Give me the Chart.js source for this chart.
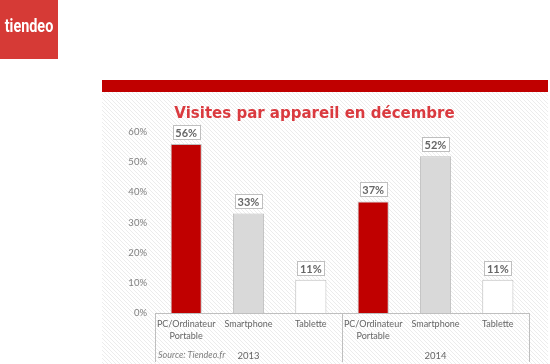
<!DOCTYPE html>
<html>
<head>
<meta charset="utf-8">
<script src="https://cdn.jsdelivr.net/npm/chart.js"></script>
<style>
  body { margin: 0; background: #fff; }
  .chart-container { position: relative; width: 550px; height: 364px; }
</style>
</head>
<body>
<div class="chart-container"><canvas id="chart"></canvas></div>
<script>
// chart data
const categories = [
  ['PC/Ordinateur', 'Portable'], 'Smartphone', 'Tablette',
  ['PC/Ordinateur', 'Portable'], 'Smartphone', 'Tablette',
];
const years = ['2013', '2014'];
const visits = [56, 33, 11, 37, 52, 11];
const titleText = 'Visites par appareil en décembre';
const sourceText = 'Source: Tiendeo.fr';

const barColors = ['#C00000', '#D9D9D9', '#FFFFFF', '#C00000', '#D9D9D9', '#FFFFFF'];
const labelFont = '"Lato", "Liberation Sans", sans-serif';

// light diagonal hatching like the slide background
function makeHatch(ctx) {
  const p = document.createElement('canvas');
  p.width = 4;
  p.height = 4;
  const pc = p.getContext('2d');
  pc.fillStyle = '#ffffff';
  pc.fillRect(0, 0, 4, 4);
  pc.strokeStyle = '#ececec';
  pc.lineWidth = 1;
  pc.beginPath();
  pc.moveTo(0, 0);
  pc.lineTo(4, 4);
  pc.stroke();
  return ctx.createPattern(p, 'repeat');
}

const backdrop = {
  id: 'backdrop',
  beforeDraw(chart) {
    const { ctx } = chart;
    ctx.save();
    ctx.fillStyle = '#ffffff';
    ctx.fillRect(0, 0, chart.width, chart.height);
    // logo
    ctx.fillStyle = '#D63A36';
    ctx.fillRect(0, 0, 58, 59);
    ctx.fillStyle = '#ffffff';
    ctx.font = 'bold 18px "Roboto", sans-serif';
    ctx.textAlign = 'center';
    ctx.textBaseline = 'middle';
    ctx.translate(29, 27);
    ctx.scale(0.8, 1);
    ctx.fillText('tiendeo', 0, 0);
    ctx.restore();
    ctx.save();
    // panel
    ctx.fillStyle = makeHatch(ctx);
    ctx.fillRect(102, 92, 446, chart.height - 92);
    ctx.fillStyle = '#C00000';
    ctx.fillRect(102, 80, 446, 12);
    ctx.restore();
  },
  afterDraw(chart) {
    const { ctx } = chart;
    ctx.save();
    ctx.fillStyle = '#7F7F7F';
    ctx.font = `italic 9px ${labelFont}`;
    ctx.textAlign = 'left';
    ctx.textBaseline = 'middle';
    ctx.fillText(sourceText, 158, 355);
    ctx.restore();
  },
};

// boxed value labels above each bar
const valueBoxes = {
  id: 'valueBoxes',
  afterDatasetsDraw(chart) {
    const { ctx } = chart;
    const meta = chart.getDatasetMeta(0);
    ctx.save();
    ctx.font = `bold 11px ${labelFont}`;
    ctx.textAlign = 'center';
    ctx.textBaseline = 'middle';
    meta.data.forEach((bar, i) => {
      const text = `${chart.data.datasets[0].data[i]}%`;
      const w = 27;
      const h = 14;
      const bx = Math.round(bar.x - w / 2) + 0.5;
      const by = Math.round(bar.y - 5 - h) + 0.5;
      ctx.fillStyle = '#ffffff';
      ctx.fillRect(bx, by, w, h);
      ctx.strokeStyle = '#BFBFBF';
      ctx.lineWidth = 1;
      ctx.strokeRect(bx, by, w, h);
      ctx.fillStyle = '#666666';
      ctx.fillText(text, bar.x, by + h / 2 + 0.5);
    });
    ctx.restore();
  },
};

new Chart(document.getElementById('chart'), {
  type: 'bar',
  data: {
    labels: categories,
    datasets: [{
      data: visits,
      backgroundColor: barColors,
      borderColor: '#BFBFBF',
      borderWidth: 1,
      barPercentage: 0.5,
      categoryPercentage: 1,
    }],
  },
  options: {
    responsive: true,
    maintainAspectRatio: false,
    animation: false,
    layout: {
      padding: { top: 100, left: 100, right: 21, bottom: 0 },
    },
    plugins: {
      legend: { display: false },
      tooltip: { enabled: false },
      title: {
        display: true,
        text: titleText,
        color: '#DA3A3F',
        font: { family: '"DejaVu Sans", sans-serif', size: 15, weight: 'bold' },
        padding: { top: 5, bottom: 9 },
      },
    },
    scales: {
      x: {
        grid: {
          display: true,
          offset: true,
          drawOnChartArea: false,
          drawTicks: true,
          tickLength: 49,
          color: (c) => (c.index === undefined || c.index % 3 === 0 ? '#BFBFBF' : 'rgba(0,0,0,0)'),
        },
        border: { display: true, color: '#BFBFBF' },
        ticks: {
          autoSkip: false,
          maxRotation: 0,
          minRotation: 0,
          padding: -44,
          color: '#666666',
          font: { family: labelFont, size: 9, lineHeight: 1.35 },
        },
        afterFit(scale) { scale.height = 34; },
      },
      x2: {
        type: 'category',
        labels: years,
        position: 'bottom',
        offset: true,
        weight: 1,
        grid: { display: false, drawTicks: false },
        border: { display: false },
        ticks: {
          padding: 3,
          color: '#666666',
          font: { family: labelFont, size: 9.5 },
        },
        afterFit(scale) { scale.height = 17; },
      },
      y: {
        min: 0,
        max: 60,
        grid: { display: false, drawTicks: false },
        border: { display: false },
        ticks: {
          stepSize: 10,
          padding: 8,
          color: '#7F7F7F',
          font: { family: labelFont, size: 9.5 },
          callback: (v) => `${v}%`,
        },
        afterFit(scale) { scale.width = 55; },
      },
    },
  },
  plugins: [backdrop, valueBoxes],
});
</script>
</body>
</html>
